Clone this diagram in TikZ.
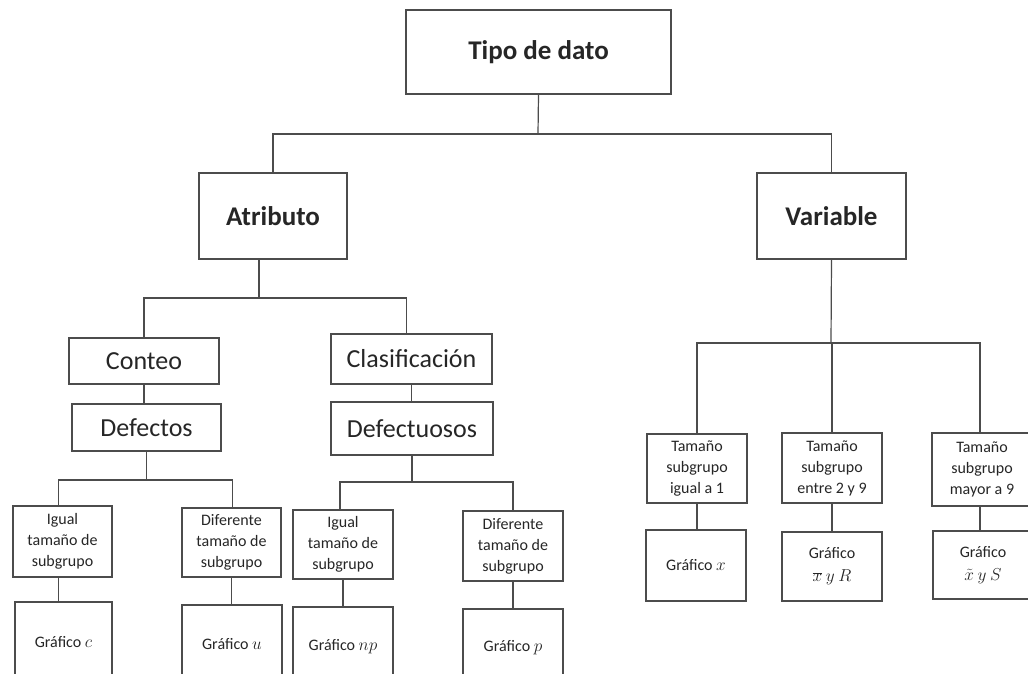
\documentclass[tikz,border=0pt]{standalone}
\usepackage{fontspec}
\setmainfont{Carlito}
\begin{document}
\begin{tikzpicture}[x=1pt,y=-1pt,
  box/.style={draw=black!70, line width=1.2pt, inner sep=0pt, align=center, text=black!85},
  big/.style={box, font=\fontsize{26}{30}\selectfont},
  bigb/.style={box, font=\fontsize{27}{30}\selectfont\bfseries},
  small/.style={box, font=\fontsize{16}{21}\selectfont},
  ln/.style={draw=black!70, line width=1.2pt}]
\useasboundingbox (0,0) rectangle (1028,673);
\clip (0,0) rectangle (1028,673);
\fill[white] (0,0) rectangle (1028,673);
% top
\node[bigb, minimum width=265pt, minimum height=84pt] (tipo) at (538.5,52) {Tipo de dato};
\node[bigb, minimum width=148pt, minimum height=86pt] (atr) at (273,216) {Atributo};
\node[bigb, minimum width=149pt, minimum height=86pt] (var) at (831.5,216) {Variable};
% attribute branch
\node[big, minimum width=150pt, minimum height=46pt] (conteo) at (144,361) {Conteo};
\node[big, minimum width=149pt, minimum height=47pt] (defectos) at (146.5,427.5) {Defectos};
\node[big, minimum width=161pt, minimum height=50pt] (clasif) at (411.5,359) {Clasificación};
\node[big, minimum width=162pt, minimum height=53pt] (defectuosos) at (412,428.5) {Defectuosos};
\node[small, minimum width=99pt, minimum height=71pt] (igA) at (62.5,541.5) {Igual\\tamaño de\\subgrupo};
\node[small, minimum width=99pt, minimum height=69pt] (difA) at (231.5,542.5) {Diferente\\tamaño de\\subgrupo};
\node[small, minimum width=97pt, minimum height=88pt] (gc) at (63.5,646) {\raisebox{8pt}{Gráfico $c$}};
\node[small, minimum width=100pt, minimum height=85pt] (gu) at (232,647.5) {\raisebox{8pt}{Gráfico $u$}};
\node[small, minimum width=100pt, minimum height=69pt] (igB) at (343,544.5) {Igual\\tamaño de\\subgrupo};
\node[small, minimum width=100pt, minimum height=70pt] (difB) at (513,546) {Diferente\\tamaño de\\subgrupo};
\node[small, minimum width=100pt, minimum height=83pt] (gnp) at (343,648.5) {\raisebox{8pt}{Gráfico $np$}};
\node[small, minimum width=100pt, minimum height=81pt] (gp) at (513,649.5) {\raisebox{8pt}{Gráfico $p$}};
% variable branch
\node[small, minimum width=100pt, minimum height=69pt] (tA) at (697,468.5) {Tamaño\\subgrupo\\igual a 1};
\node[small, minimum width=100pt, minimum height=70pt] (tB) at (832,468) {Tamaño\\subgrupo\\entre 2 y 9};
\node[small, minimum width=100pt, minimum height=73pt] (tC) at (982,469.5) {Tamaño\\subgrupo\\mayor a 9};
\node[small, minimum width=100pt, minimum height=71pt] (gx) at (696,565.5) {Gráfico $x$};
\node[small, minimum width=100pt, minimum height=69pt, font=\fontsize{16}{23}\selectfont] (gxr) at (832,566.5) {Gráfico\\$\overline{x}\ y\ R$};
\node[small, minimum width=100pt, minimum height=68pt, font=\fontsize{16}{23}\selectfont] (gxs) at (983,565) {Gráfico\\$\tilde{x}\ y\ S$};
% junctions
\coordinate (j1) at (538,134);
\coordinate (j2) at (259,298);
\coordinate (j3) at (145,480);
\coordinate (j4) at (409,482);
\coordinate (j5) at (831,343);
% connectors
\draw[ln] (tipo.south) -- (j1);
\draw[ln] (atr.north) |- (j1) -| (var.north);
\draw[ln] ([xshift=-14pt]atr.south) -- (j2);
\draw[ln] (conteo.north) |- (j2) -| ([xshift=-5pt]clasif.north);
\draw[ln] (conteo.south) -- (conteo.south |- defectos.north);
\draw[ln] (clasif.south) -- (clasif.south |- defectuosos.north);
\draw[ln] (defectos.south) -- (defectos.south |- j3);
\draw[ln] ([xshift=-4pt]igA.north) |- (j3) -| ([xshift=1pt]difA.north);
\draw[ln] (defectuosos.south) -- (defectuosos.south |- j4);
\draw[ln] ([xshift=-3pt]igB.north) |- (j4) -| (difB.north);
\draw[ln] ([xshift=-4pt]igA.south) -- ([xshift=-4pt]igA.south |- gc.north);
\draw[ln] (difA.south) -- (difA.south |- gu.north);
\draw[ln] (igB.south) -- (igB.south |- gnp.north);
\draw[ln] (difB.south) -- (difB.south |- gp.north);
\draw[ln] (var.south) -- (j5);
\draw[ln] (tA.north) |- (j5) -| ([xshift=-2pt]tC.north);
\draw[ln] (tB.north) -- (tB.north |- j5);
\draw[ln] (tA.south) -- (tA.south |- gx.north);
\draw[ln] (tB.south) -- (tB.south |- gxr.north);
\draw[ln] ([xshift=-2pt]tC.south) -- ([xshift=-2pt]tC.south |- gxs.north);
\end{tikzpicture}
\end{document}
